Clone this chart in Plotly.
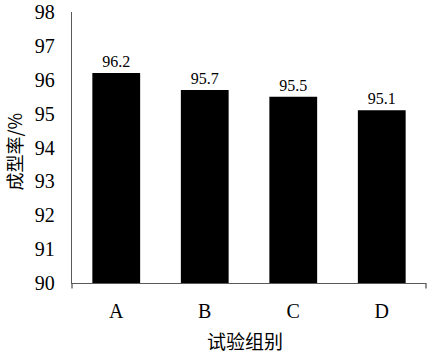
import plotly.graph_objects as go

categories = ["A", "B", "C", "D"]
values = [96.2, 95.7, 95.5, 95.1]
value_labels = ["96.2", "95.7", "95.5", "95.1"]
y_ticks = [90, 91, 92, 93, 94, 95, 96, 97, 98]
x_title = "试验组别"
y_title = "成型率/%"

FONT = "Liberation Serif, Times New Roman, Noto Sans CJK SC, serif"
AXIS_COLOR = "#595959"

fig = go.Figure()
fig.add_trace(go.Bar(
    x=categories, y=values,
    marker=dict(color="black", line=dict(width=0)),
    text=value_labels, textposition="outside",
    textfont=dict(family=FONT, size=16, color="black"),
    cliponaxis=False,
))

fig.update_layout(
    width=427, height=355,
    margin=dict(l=72, r=1, t=9, b=72),
    paper_bgcolor="white", plot_bgcolor="white",
    bargap=0.46,
    showlegend=False,
    font=dict(family=FONT, color="black"),
    xaxis=dict(
        showline=True, linecolor=AXIS_COLOR, linewidth=1.3,
        showgrid=False, ticks="", zeroline=False,
        tickfont=dict(family=FONT, size=20, color="black"),
        ticklabelstandoff=10,
    ),
    yaxis=dict(
        range=[90, 98], tickvals=y_ticks,
        showline=True, linecolor=AXIS_COLOR, linewidth=1.3,
        showgrid=False, ticks="", zeroline=False,
        tickfont=dict(family=FONT, size=20, color="black"),
        ticklabelstandoff=12,
        ticklabeloverflow="allow",
    ),
    annotations=[
        dict(text=x_title, xref="paper", yref="paper", x=0.49, y=0,
             yshift=-57, showarrow=False, xanchor="center", yanchor="middle",
             font=dict(family="Noto Sans CJK SC", size=19, color="black")),
        dict(text=y_title, xref="paper", yref="paper", x=0, y=0.485,
             xshift=-58, showarrow=False, xanchor="center", yanchor="middle",
             textangle=-90,
             font=dict(family="Noto Sans CJK SC, Liberation Serif", size=18, color="black")),
    ],
    shapes=[
        dict(type="line", xref="paper", yref="paper", x0=0, x1=0, y0=0, y1=-0.02,
             line=dict(color=AXIS_COLOR, width=1.3)),
        dict(type="line", xref="paper", yref="paper", x0=1, x1=1, y0=0, y1=-0.02,
             line=dict(color=AXIS_COLOR, width=1.3)),
    ],
)

fig.write_html("out.html")
